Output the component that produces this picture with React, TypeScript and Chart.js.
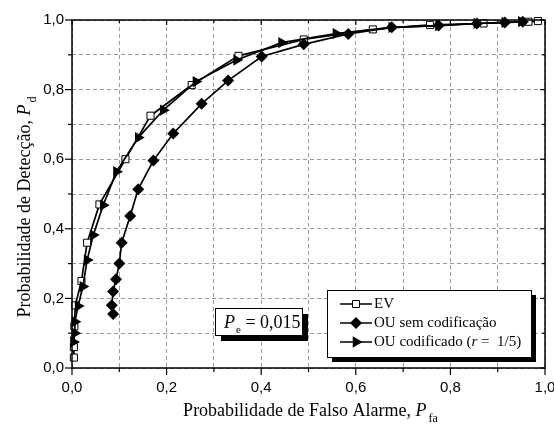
import { useEffect, useRef } from 'react';
import { Chart, registerables } from 'chart.js';

Chart.register(...registerables);

// ---- data ----
const evX = [0.004, 0.004, 0.005, 0.007, 0.02, 0.032, 0.058, 0.113, 0.166, 0.253, 0.352, 0.49, 0.636, 0.757, 0.87, 0.965, 0.985];
const evY = [0.03, 0.06, 0.12, 0.18, 0.25, 0.36, 0.47, 0.6, 0.725, 0.813, 0.897, 0.944, 0.973, 0.986, 0.99, 0.995, 0.997];

const ouX = [0.087, 0.084, 0.087, 0.093, 0.1, 0.105, 0.123, 0.14, 0.172, 0.214, 0.274, 0.33, 0.401, 0.49, 0.584, 0.676, 0.775, 0.856, 0.915, 0.953];
const ouY = [0.155, 0.18, 0.22, 0.255, 0.3, 0.36, 0.437, 0.514, 0.596, 0.674, 0.759, 0.826, 0.895, 0.93, 0.96, 0.979, 0.984, 0.99, 0.993, 0.995];

const occX = [0.003, 0.006, 0.006, 0.013, 0.023, 0.032, 0.045, 0.066, 0.094, 0.14, 0.193, 0.262, 0.348, 0.443, 0.558, 0.676, 0.775, 0.856, 0.915, 0.95];
const occY = [0.075, 0.1, 0.133, 0.178, 0.234, 0.31, 0.382, 0.468, 0.564, 0.662, 0.741, 0.823, 0.885, 0.935, 0.961, 0.979, 0.984, 0.99, 0.993, 0.995];

const seriesLabels = ['EV', 'OU sem codificação', 'OU codificado (r =  1/5)'];
const xTitleText = 'Probabilidade de Falso Alarme, ';
const xTitleSym = 'P';
const xTitleSub = 'fa';
const yTitleText = 'Probabilidade de Detecção, ';
const yTitleSym = 'P';
const yTitleSub = 'd';
const peSym = 'P';
const peSub = 'e';
const peValue = ' = 0,015';

const SERIF = '"Liberation Serif", "Times New Roman", serif';
const SANS = '"Liberation Sans", Arial, sans-serif';

function fmt(v: number) {
  const i = Math.round(v * 10);
  if (i % 2 !== 0) return '';
  return (i / 10).toFixed(1).replace('.', ',');
}

function drawMarker(ctx: CanvasRenderingContext2D, kind: string, cx: number, cy: number) {
  ctx.save();
  ctx.beginPath();
  if (kind === 'rect') {
    const s = 3.5;
    ctx.rect(cx - s, cy - s, 2 * s, 2 * s);
    ctx.fillStyle = '#fff';
    ctx.fill();
    ctx.lineWidth = 1;
    ctx.strokeStyle = '#000';
    ctx.stroke();
  } else if (kind === 'rectRot') {
    const r = 6;
    ctx.moveTo(cx, cy - r);
    ctx.lineTo(cx + r, cy);
    ctx.lineTo(cx, cy + r);
    ctx.lineTo(cx - r, cy);
    ctx.closePath();
    ctx.fillStyle = '#000';
    ctx.fill();
  } else {
    const r = 6.5;
    ctx.moveTo(cx + r, cy);
    ctx.lineTo(cx - r / 2, cy - r * 0.866);
    ctx.lineTo(cx - r / 2, cy + r * 0.866);
    ctx.closePath();
    ctx.fillStyle = '#000';
    ctx.fill();
  }
  ctx.restore();
}

const decor = {
  id: 'decor',
  afterDraw(chart: any) {
    const { ctx, chartArea: a, scales } = chart;
    const xs = scales.x;
    const ys = scales.y;
    ctx.save();
    // frame
    ctx.strokeStyle = '#000';
    ctx.lineWidth = 1.5;
    ctx.strokeRect(a.left, a.top, a.right - a.left, a.bottom - a.top);
    // ticks
    ctx.lineWidth = 1.2;
    const line = (x1: number, y1: number, x2: number, y2: number) => {
      ctx.beginPath();
      ctx.moveTo(x1, y1);
      ctx.lineTo(x2, y2);
      ctx.stroke();
    };
    for (let i = 0; i <= 10; i++) {
      const v = i / 10;
      const major = i % 2 === 0;
      const px = xs.getPixelForValue(v);
      const py = ys.getPixelForValue(v);
      const lo = major ? 7 : 4;
      const li = major ? 5 : 3;
      line(px, a.bottom, px, a.bottom + lo);
      line(px, a.top, px, a.top + li);
      line(a.left - lo, py, a.left, py);
      line(a.right - li, py, a.right, py);
    }

    // x title
    ctx.fillStyle = '#000';
    ctx.textBaseline = 'alphabetic';
    ctx.textAlign = 'left';
    const mainFont = `18px ${SERIF}`;
    const symFont = `italic 18px ${SERIF}`;
    const subFont = `12px ${SERIF}`;
    ctx.font = mainFont;
    const w1 = ctx.measureText(xTitleText).width;
    ctx.font = symFont;
    const w2 = ctx.measureText(xTitleSym).width;
    ctx.font = subFont;
    const w3 = ctx.measureText(xTitleSub).width;
    const totalX = w1 + w2 + 2 + w3;
    const cx = (a.left + a.right) / 2 + 2;
    let sx = cx - totalX / 2;
    const by = 416;
    ctx.font = mainFont;
    ctx.fillText(xTitleText, sx, by);
    sx += w1;
    ctx.font = symFont;
    ctx.fillText(xTitleSym, sx, by);
    sx += w2 + 2;
    ctx.font = subFont;
    ctx.fillText(xTitleSub, sx, by + 6);

    // y title
    ctx.save();
    ctx.translate(30, 207);
    ctx.rotate(-Math.PI / 2);
    ctx.font = mainFont;
    const v1 = ctx.measureText(yTitleText).width;
    ctx.font = symFont;
    const v2 = ctx.measureText(yTitleSym).width;
    ctx.font = subFont;
    const v3 = ctx.measureText(yTitleSub).width;
    const totalY = v1 + v2 + 2 + v3;
    let ty = -totalY / 2;
    ctx.font = mainFont;
    ctx.fillText(yTitleText, ty, 0);
    ty += v1;
    ctx.font = symFont;
    ctx.fillText(yTitleSym, ty, 0);
    ty += v2 + 2;
    ctx.font = subFont;
    ctx.fillText(yTitleSub, ty, 6);
    ctx.restore();

    // P_e box
    const bx = 215, byy = 308, bw = 87, bh = 27;
    ctx.fillStyle = '#000';
    ctx.fillRect(bx + 6, byy + 6, bw, bh);
    ctx.fillStyle = '#fff';
    ctx.fillRect(bx, byy, bw, bh);
    ctx.strokeStyle = '#000';
    ctx.lineWidth = 1;
    ctx.strokeRect(bx + 0.5, byy + 0.5, bw, bh);
    ctx.fillStyle = '#000';
    let px = bx + 9;
    const pby = byy + 20;
    ctx.font = `italic 18px ${SERIF}`;
    ctx.fillText(peSym, px, pby);
    px += ctx.measureText(peSym).width + 1;
    ctx.font = `11px ${SERIF}`;
    ctx.fillText(peSub, px, pby + 5);
    px += ctx.measureText(peSub).width;
    ctx.font = `18px ${SERIF}`;
    ctx.fillText(peValue, px, pby);

    // legend
    const lx = 327, ly = 290, lw = 204, lh = 67;
    ctx.fillStyle = '#000';
    ctx.fillRect(lx + 5, ly + 5, lw, lh);
    ctx.fillStyle = '#fff';
    ctx.fillRect(lx, ly, lw, lh);
    ctx.strokeStyle = '#000';
    ctx.lineWidth = 1;
    ctx.strokeRect(lx + 0.5, ly + 0.5, lw, lh);
    const kinds = ['rect', 'rectRot', 'triangle'];
    const rows = [304, 323, 342];
    ctx.font = `15px ${SERIF}`;
    ctx.textBaseline = 'middle';
    for (let i = 0; i < 3; i++) {
      const yy = rows[i];
      ctx.strokeStyle = '#000';
      ctx.lineWidth = 1.5;
      line(340, yy, 372, yy);
      drawMarker(ctx, kinds[i], 356, yy);
      ctx.fillStyle = '#000';
      const label = seriesLabels[i];
      if (i === 2) {
        const k = label.indexOf('r =');
        const pre = label.slice(0, k);
        const post = label.slice(k + 1);
        let tx = 374;
        ctx.font = `15px ${SERIF}`;
        ctx.fillText(pre, tx, yy);
        tx += ctx.measureText(pre).width;
        ctx.font = `italic 15px ${SERIF}`;
        ctx.fillText('r', tx, yy);
        tx += ctx.measureText('r').width;
        ctx.font = `15px ${SERIF}`;
        ctx.fillText(post, tx, yy);
      } else {
        ctx.font = `15px ${SERIF}`;
        ctx.fillText(label, 374, yy);
      }
    }
    ctx.restore();
  },
};

function pts(xs: number[], ys: number[]) {
  return xs.map((v, i) => ({ x: v, y: ys[i] }));
}

export default function App() {
  const ref = useRef<HTMLCanvasElement | null>(null);
  useEffect(() => {
    if (!ref.current) return;
    const common = {
      showLine: true,
      borderColor: '#000',
      borderWidth: 1.7,
      tension: 0,
      clip: false as any,
      pointBorderColor: '#000',
    };
    const chart = new Chart(ref.current, {
      type: 'scatter',
      data: {
        datasets: [
          {
            ...common,
            label: seriesLabels[2],
            data: pts(occX, occY),
            pointStyle: 'triangle',
            rotation: 90,
            pointRadius: 6.5,
            pointBackgroundColor: '#000',
            pointBorderWidth: 0,
          } as any,
          {
            ...common,
            label: seriesLabels[1],
            data: pts(ouX, ouY),
            pointStyle: 'rectRot',
            pointRadius: 6,
            pointBackgroundColor: '#000',
            pointBorderWidth: 0,
          } as any,
          {
            ...common,
            label: seriesLabels[0],
            data: pts(evX, evY),
            pointStyle: 'rect',
            pointRadius: 5,
            pointBackgroundColor: '#fff',
            pointBorderWidth: 1,
          } as any,
        ],
      },
      options: {
        animation: false,
        responsive: true,
        maintainAspectRatio: false,
        layout: { padding: { top: 20, right: 9, left: 0, bottom: 0 } },
        plugins: { legend: { display: false }, tooltip: { enabled: false } },
        scales: {
          x: {
            type: 'linear',
            min: 0,
            max: 1,
            ticks: {
              stepSize: 0.1,
              autoSkip: false,
              maxRotation: 0,
              padding: 11,
              color: '#000',
              font: { family: SANS, size: 15 },
              callback: (v: any) => fmt(Number(v)),
            },
            grid: { color: '#9a9a9a', lineWidth: 1, drawTicks: false },
            border: { display: false, dash: [4, 3] },
            afterFit: (s: any) => {
              s.height = 57;
              s.paddingLeft = 0;
              s.paddingRight = 0;
            },
          },
          y: {
            type: 'linear',
            min: 0,
            max: 1,
            ticks: {
              stepSize: 0.1,
              autoSkip: false,
              padding: 8,
              color: '#000',
              font: { family: SANS, size: 15 },
              callback: (v: any) => fmt(Number(v)),
            },
            grid: { color: '#9a9a9a', lineWidth: 1, drawTicks: false },
            border: { display: false, dash: [4, 3] },
            afterFit: (s: any) => {
              s.width = 72;
              s.paddingTop = 0;
              s.paddingBottom = 0;
            },
          },
        },
      } as any,
      plugins: [decor],
    });
    return () => chart.destroy();
  }, []);
  return (
    <div style={{ position: 'absolute', left: 0, top: 0, width: 554, height: 425, background: '#fff' }}>
      <canvas ref={ref} />
    </div>
  );
}
